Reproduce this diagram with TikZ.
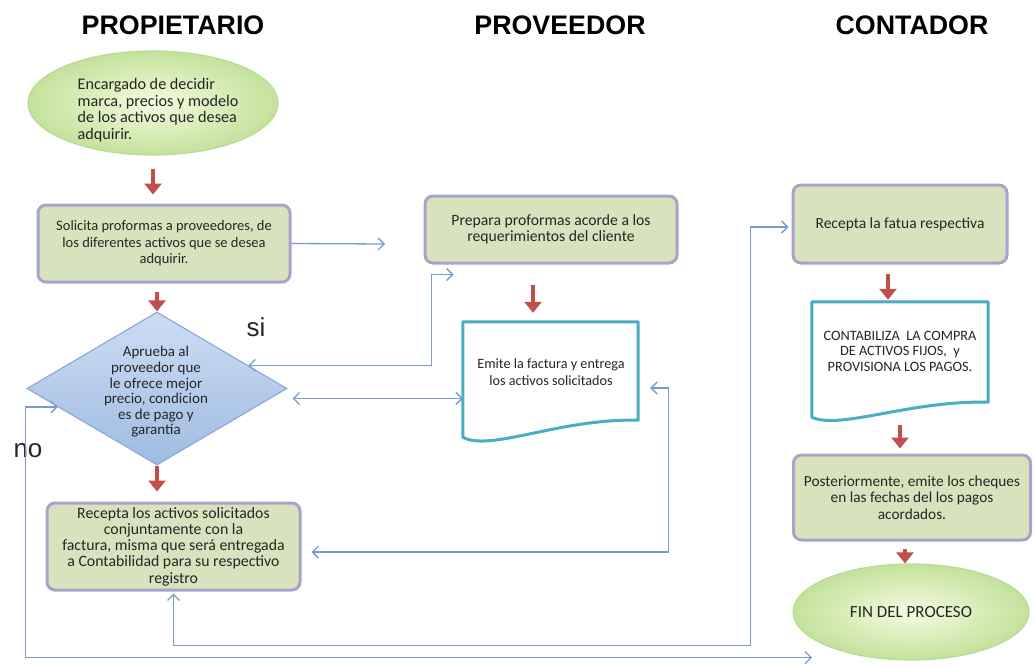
\documentclass[tikz,border=0pt]{standalone}
\usepackage{fontspec}
\setmainfont{Carlito}
\newfontfamily\headfont{Liberation Sans}
\usetikzlibrary{shapes.geometric,arrows.meta,calc}

\definecolor{redarr}{HTML}{C0504D}
\definecolor{linkblue}{HTML}{7A9AD0}
\definecolor{boxfill}{HTML}{D7E3BC}
\definecolor{boxedge}{HTML}{ABA2CC}
\definecolor{docedge}{HTML}{4BACC6}
\definecolor{ellin}{HTML}{F5FBE0}
\definecolor{ellout}{HTML}{C3E29C}
\definecolor{elledge}{HTML}{B9DC95}
\definecolor{diamtop}{HTML}{CCDDF3}
\definecolor{diambot}{HTML}{9EBCE2}
\definecolor{diamedge}{HTML}{8DAADA}
\definecolor{inkgray}{HTML}{262626}

\tikzset{
  head/.style={font=\headfont\bfseries\fontsize{26.8}{30}\selectfont, text=black},
  yesno/.style={font=\headfont\fontsize{26}{30}\selectfont, text=inkgray},
  procbox/.style={rectangle, rounded corners=8pt, draw=boxedge, line width=3pt,
    fill=boxfill, inner sep=0pt, align=center, text=inkgray},
  startend/.style={ellipse, draw=elledge, line width=1.2pt, inner color=ellin,
    outer color=ellout, inner sep=0pt, text=inkgray},
  decision/.style={diamond, draw=diamedge, line width=1.2pt, top color=diamtop,
    bottom color=diambot, inner sep=0pt},
  docbox/.style={rectangle, inner sep=0pt},
  docline/.style={draw=docedge, line width=3pt, fill=white, line join=round},
  plaintext/.style={align=center, inner sep=0pt, text=inkgray},
  flowarrow/.style={draw=redarr, line width=4.5pt, -{Triangle[length=11pt,width=17pt]}},
  link/.style={draw=linkblue, line width=1.3pt,
    {Straight Barb[length=6pt,width=12pt]}-{Straight Barb[length=6pt,width=12pt]}},
  linkend/.style={draw=linkblue, line width=1.3pt, -{Straight Barb[length=6pt,width=12pt]}},
}

\begin{document}
\begin{tikzpicture}[x=1pt,y=1pt]
\useasboundingbox (0,0) rectangle (1035,-666);
\fill[white] (0,0) rectangle (1035,-666);

% column headings
\node[head] (hprop) at (173,-25) {PROPIETARIO};
\node[head] (hprov) at (560,-25) {PROVEEDOR};
\node[head] (hcont) at (912,-25) {CONTADOR};

% owner column
\node[startend, minimum width=250pt, minimum height=104pt] (inicio) at (153,-103) {};
\node[plaintext, align=left, font=\fontsize{16.2}{16.5}\selectfont] (iniciotxt) at (158,-110)
  {Encargado de decidir\\marca, precios y modelo\\de los activos que desea\\adquirir.};

\node[procbox, minimum width=252pt, minimum height=77pt,
  font=\fontsize{14.5}{16.5}\selectfont] (solicita) at (164,-243.5)
  {Solicita proformas a proveedores, de\\los diferentes activos que se desea\\adquirir.};

\node[decision, minimum width=260pt, minimum height=153pt] (aprueba) at (157,-388.5) {};
\node[plaintext, font=\fontsize{15}{15.6}\selectfont] (apruebatxt) at (156,-392)
  {Aprueba al\\proveedor que\\le ofrece mejor\\precio, condicion\\es de pago y\\garantía};

\node[procbox, minimum width=253pt, minimum height=87pt,
  font=\fontsize{15.8}{16.3}\selectfont] (recepta) at (173.5,-546.5)
  {Recepta los activos solicitados\\conjuntamente con la\\factura, misma que será entregada\\a Contabilidad para su respectivo\\registro};

\node[yesno] (si) at (256,-327) {si};
\node[yesno] (no) at (28,-451) {no};

% supplier column
\node[procbox, minimum width=252pt, minimum height=67pt,
  font=\fontsize{15.7}{16}\selectfont] (prepara) at (551,-229.5)
  {Prepara proformas acorde a los\\requerimientos del cliente};

\node[docbox, minimum width=175pt, minimum height=115pt] (emite) at (550.5,-379.5) {};
\draw[docline] (emite.south west) -- (emite.north west) -- (emite.north east)
  -- ([yshift=17pt]emite.south east) .. controls +(-78,2) and +(27,-15) .. cycle;
\node[plaintext, font=\fontsize{14.2}{16.5}\selectfont] (emitetxt) at (551,-372)
  {Emite la factura y entrega\\los activos solicitados};

% accountant column
\node[procbox, minimum width=214pt, minimum height=78pt,
  font=\fontsize{15.5}{16}\selectfont] (fatua) at (900,-224) {Recepta la fatua respectiva};

\node[docbox, minimum width=176pt, minimum height=115pt] (contab) at (900,-359.5) {};
\draw[docline] (contab.south west) -- (contab.north west) -- (contab.north east)
  -- ([yshift=15pt]contab.south east) .. controls +(-78,2) and +(28,-13) .. cycle;
\node[plaintext, font=\fontsize{14.3}{15.5}\selectfont] (contabtxt) at (900,-351)
  {CONTABILIZA~ LA COMPRA\\DE ACTIVOS FIJOS, ~y\\PROVISIONA LOS PAGOS.};

\node[procbox, minimum width=237pt, minimum height=85pt,
  font=\fontsize{15.3}{16.3}\selectfont] (cheques) at (912,-497.5)
  {Posteriormente, emite los cheques\\en las fechas del los pagos\\acordados.};

\node[startend, minimum width=236pt, minimum height=96pt,
  font=\fontsize{17}{18}\selectfont] (fin) at (911,-612) {FIN DEL PROCESO};

% main flow (red)
\draw[flowarrow, shorten <=13pt, shorten >=9pt] (inicio.south) -- (inicio.south |- solicita.north);
\draw[flowarrow, shorten <=8pt] (aprueba.north |- solicita.south) -- (aprueba.north);
\draw[flowarrow, shorten >=10pt] (aprueba.south) -- (aprueba.south |- recepta.north);
\draw[flowarrow, shorten <=20pt, shorten >=9pt] ([xshift=-18pt]prepara.south)
  -- ([xshift=-18pt]prepara.south |- emite.north);
\draw[flowarrow, shorten <=9pt, shorten >=2pt] ([xshift=-12pt]fatua.south)
  -- ([xshift=-12pt]fatua.south |- contab.north);
\draw[flowarrow, shorten <=8pt, shorten >=5pt] (contab.south) -- (contab.south |- cheques.north);
\draw[flowarrow, shorten <=7pt] ([xshift=-7pt]cheques.south) -- ([xshift=-7pt]cheques.south |- fin.north);

% information links (blue)
\coordinate (haciaprov) at (385,-244);
\draw[linkend] (solicita.east) -- (haciaprov);

\draw[link] ($(aprueba.north)!0.7!(aprueba.east)$)
  -| ([xshift=8pt,yshift=-10pt]prepara.south west)
  -- ([xshift=30pt,yshift=-10pt]prepara.south west);

\draw[link] ([xshift=5pt,yshift=-10pt]aprueba.east) -- ([yshift=-10pt]aprueba.east -| emite.west);

\draw[link] ([xshift=12pt,yshift=-8.5pt]emite.east) -- ++(18,0)
  |- ([xshift=10pt,yshift=-5.5pt]recepta.east);

\draw[link] ($(aprueba.west)!0.24!(aprueba.south)$) -- ++(-32,0)
  |- ([xshift=-99pt,yshift=3pt]fin.south);

\draw[link] ([yshift=-2pt]recepta.south) -- ++(0,-52)
  -| ([xshift=-41pt,yshift=-3pt]fatua.west) -- ([xshift=-3pt,yshift=-3pt]fatua.west);

\end{tikzpicture}
\end{document}
